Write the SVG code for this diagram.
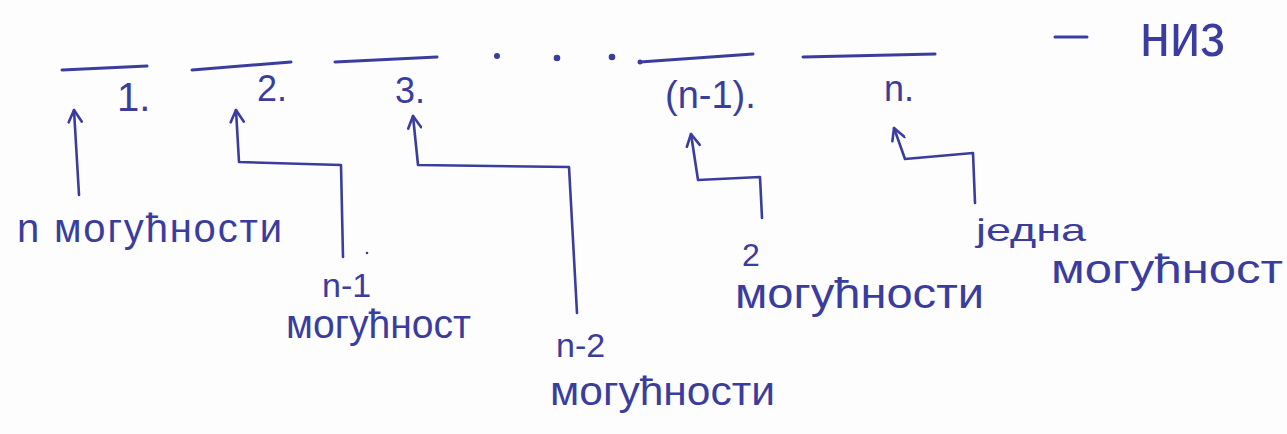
<svg xmlns="http://www.w3.org/2000/svg" width="1287" height="434" viewBox="0 0 1287 434">
<defs>
<style>
.ink{stroke:#3b3d9e;stroke-width:2.6;fill:none;stroke-linecap:round;stroke-linejoin:round}
.bar{stroke:#3b3d9e;stroke-width:3;fill:none;stroke-linecap:round}
.t{fill:#3b3d9e;font-family:"Liberation Sans","DejaVu Sans",sans-serif}
.dot{fill:#3b3d9e}
</style>
<marker id="ah" viewBox="-14 -8 16 16" markerWidth="16" markerHeight="16" refX="0" refY="0" orient="auto" markerUnits="userSpaceOnUse">
<path d="M-12,-6 L0,0 L-12,7" fill="none" stroke="#3b3d9e" stroke-width="2.6" stroke-linecap="round" stroke-linejoin="round"/>
</marker>
</defs>
<rect width="1287" height="434" fill="#fdfdfd"/>

<g id="sequence">
<g id="pos1">
<path class="bar" d="M62,70 L147,66"/>
<text class="t" x="117" y="111" font-size="40">1.</text>
</g>
<g id="pos2">
<path class="bar" d="M192,70 L291,62"/>
<text class="t" x="257" y="101" font-size="36">2.</text>
</g>
<g id="pos3">
<path class="bar" d="M335,62 L437,57"/>
<text class="t" x="395" y="103" font-size="36">3.</text>
</g>
<g id="ellipsis">
<circle class="dot" cx="497" cy="56" r="3"/>
<circle class="dot" cx="557" cy="58" r="3.3"/>
<circle class="dot" cx="612" cy="57" r="3.3"/>
<circle class="dot" cx="640" cy="62" r="2.5"/>
</g>
<g id="posn1">
<path class="bar" d="M640,62 L753,54"/>
<text class="t" x="665" y="108" font-size="38">(n-1).</text>
</g>
<g id="posn">
<path class="bar" d="M803,57 L935,54"/>
<text class="t" x="884" y="101" font-size="36">n.</text>
</g>
<g id="niz">
<path class="bar" d="M1055,37 L1087,37"/>
<text class="t" x="1140" y="56" font-size="62" textLength="85" lengthAdjust="spacingAndGlyphs">низ</text>
</g>
</g>

<g id="connectors">
<path class="ink" marker-end="url(#ah)" d="M79,195 L74,110"/>
<path class="ink" marker-end="url(#ah)" d="M343,257 L341,165 L239,162 L236,110"/>
<path class="ink" marker-end="url(#ah)" d="M577,313 L569,167 L418,165 L413,116"/>
<path class="ink" marker-end="url(#ah)" d="M762,218 L760,177 L698,180 L691,134"/>
<path class="ink" marker-end="url(#ah)" d="M975,203 L973,153 L905,159 L894,128"/>
</g>

<g id="label1">
<text class="t" x="17" y="242" font-size="40" textLength="265" lengthAdjust="spacing">n могућности</text>
</g>
<g id="label2">
<circle class="dot" cx="367" cy="253" r="1.3"/>
<text class="t" x="322" y="297" font-size="34">n-1</text>
<text class="t" x="286" y="338" font-size="40" textLength="185" lengthAdjust="spacingAndGlyphs">могућност</text>
</g>
<g id="label3">
<text class="t" x="556" y="357" font-size="34">n-2</text>
<text class="t" x="550" y="405" font-size="40" textLength="225" lengthAdjust="spacingAndGlyphs">могућности</text>
</g>
<g id="label4">
<text class="t" x="742" y="266" font-size="32">2</text>
<text class="t" x="735" y="308" font-size="42" textLength="249" lengthAdjust="spacingAndGlyphs">могућности</text>
</g>
<g id="label5">
<text class="t" x="976" y="241" font-size="32" textLength="110" lengthAdjust="spacingAndGlyphs">једна</text>
<text class="t" x="1051" y="283" font-size="40" textLength="232" lengthAdjust="spacingAndGlyphs">могућност</text>
</g>
</svg>
